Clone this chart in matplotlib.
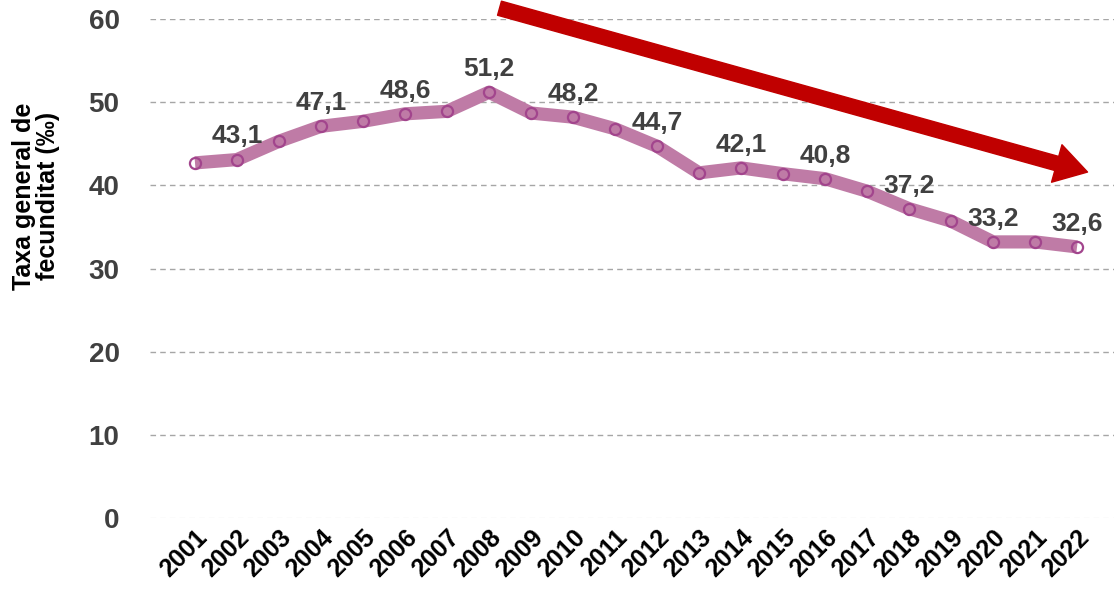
import matplotlib
matplotlib.use('Agg')
import matplotlib.pyplot as plt

years = [str(y) for y in range(2001, 2023)]
rate = [42.7, 43.1, 45.3, 47.1, 47.7, 48.6, 48.9, 51.2, 48.7, 48.2, 46.8,
        44.7, 41.5, 42.1, 41.4, 40.8, 39.3, 37.2, 35.7, 33.2, 33.2, 32.6]
labelled = set(years[1::2])  # only the even years carry a value label

LINE = '#bf7ba6'
EDGE = '#a2458d'
plt.rcParams['font.family'] = ['Liberation Sans', 'DejaVu Sans']

fig = plt.figure(figsize=(11.14, 5.89), dpi=100)
ax = fig.add_axes([0.1347, 0.1205, 0.8653, 0.8472])

x = list(range(len(years)))
ax.plot(x, rate, '-', color=LINE, lw=9.5, solid_capstyle='butt', zorder=3)
ax.plot(x, rate, 'o', ms=8, mfc='none', mec=EDGE, mew=1.6, zorder=4)

for i, (yr, v) in enumerate(zip(years, rate)):
    if yr in labelled:
        ax.annotate(f'{v:.1f}'.replace('.', ','), (i, v), xytext=(0, 8),
                    textcoords='offset points', ha='center', va='bottom',
                    fontsize=19, fontweight='bold', color='#404040', zorder=5)

# trend arrow
ax.annotate('', xy=(21.25, 41.6), xytext=(7.25, 61.3), annotation_clip=False,
            arrowprops=dict(arrowstyle='simple,head_width=2.8,head_length=2.3,tail_width=1.05',
                            mutation_scale=10, color='#c00000', shrinkA=0, shrinkB=0))

ax.set_xlim(-1.07, 21.88)
ax.set_ylim(0, 60)
ax.set_yticks(range(0, 61, 10))
ax.set_xticks(x)
ax.set_xticklabels(years, rotation=45, ha='right', rotation_mode='anchor',
                   fontsize=18, fontweight='bold', color='black')
ax.tick_params(axis='y', labelsize=20, labelcolor='#404040', length=0, pad=22)
ax.tick_params(axis='x', length=0, pad=5)
for lab in ax.get_yticklabels():
    lab.set_fontweight('bold')

for yv in range(10, 61, 10):
    ax.axhline(yv, color='#a6a6a6', lw=1, ls=(0, (4, 3)), zorder=1)
ax.axhline(0, color='#eeeeee', lw=1, ls=(0, (4, 3)), zorder=1)
for s in ax.spines.values():
    s.set_visible(False)

ax.set_ylabel('Taxa general de\nfecunditat (‰)', fontsize=18, fontweight='bold',
              color='black', linespacing=1.0)
ax.yaxis.set_label_coords(-0.093, 0.645)

fig.savefig('out.png', dpi=100)
